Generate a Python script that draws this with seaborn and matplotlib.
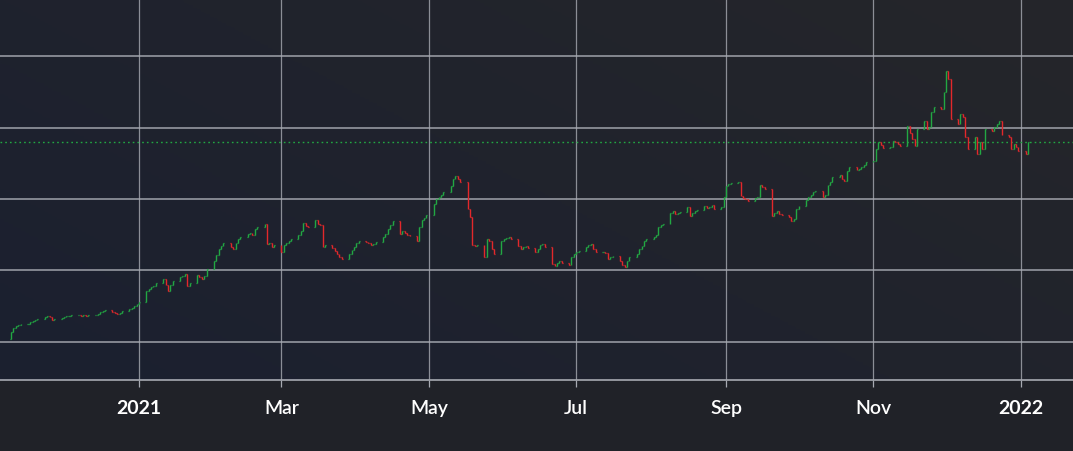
import numpy as np
import pandas as pd
import matplotlib
matplotlib.use("Agg")
import matplotlib.pyplot as plt
import matplotlib.dates as mdates
from matplotlib.colors import LinearSegmentedColormap
import seaborn as sns

# daily closes, one row per trading week (Mon..Fri), 2020-11-09 .. 2022-01-04
weekly_closes = [
    [56.9, 59.7, 61.1, 61.8, 62.5],
    [62.5, 63.9, 64.6, 65.3, 66.0],
    [67.4, 68.1, 67.4, 65.3, 66.0],
    [66.7, 67.4, 68.1, 68.1, 68.8],
    [68.8, 68.1, 68.8, 68.1, 68.8],
    [68.8, 69.5, 70.9, 71.6, 72.3],
    [70.9, 70.2, 69.5, 70.2, 71.6],
    [73.0, 73.7, 75.1, 76.5, 77.9],
    [85.6, 87.0, 88.4, 89.1, 91.2],
    [94.0, 89.8, 85.6, 89.8, 92.6],
    [95.4, 96.1, 97.5, 89.1, 91.2],
    [96.8, 95.4, 94.0, 96.1, 101.0],
    [106.6, 110.8, 115.0, 117.1, 119.2],
    [116.4, 115.0, 119.2, 122.0, 123.4],
    [125.5, 126.2, 124.8, 129.0, 130.4],
    [132.5, 118.5, 119.2, 116.4, 117.8],
    [112.9, 117.8, 119.2, 120.6, 122.0],
    [124.8, 127.6, 133.2, 131.1, 130.4],
    [135.3, 132.5, 131.8, 116.4, 117.8],
    [115.7, 113.6, 111.5, 109.4, 108.0],
    [111.5, 114.3, 116.4, 119.2, 120.6],
    [119.9, 119.2, 117.8, 118.5, 119.9],
    [123.4, 125.5, 129.0, 131.8, 134.6],
    [125.5, 127.6, 126.2, 124.8, 124.1],
    [120.6, 130.4, 135.3, 136.7, 138.8],
    [146.5, 150.0, 151.4, 152.8, 154.9],
    [159.1, 164.0, 166.1, 164.0, 161.9],
    [143.0, 137.4, 117.8, 117.1, 117.8],
    [109.4, 122.0, 120.6, 115.0, 111.5],
    [120.6, 122.0, 122.7, 123.4, 122.0],
    [117.1, 115.0, 116.4, 117.1, 115.7],
    [112.9, 115.0, 117.8, 118.5, 116.4],
    [104.5, 103.1, 105.2, 106.6, 105.2],
    [103.8, 109.4, 111.5, 112.9, 113.6],
    [116.4, 117.8, 118.5, 115.0, 112.9],
    [112.9, 112.2, 108.0, 109.4, 110.1],
    [106.6, 103.8, 102.4, 106.6, 109.4],
    [111.5, 115.0, 117.1, 120.6, 122.0],
    [123.4, 124.8, 130.4, 131.8, 132.5],
    [140.2, 141.6, 139.5, 140.2, 140.9],
    [144.4, 138.1, 140.2, 141.6, 142.3],
    [145.1, 143.7, 144.4, 145.8, 143.0],
    [144.4, 151.4, 159.1, 160.5, 161.2],
    [161.9, 152.1, 150.7, 150.0, 148.6],
    [150.7, 151.4, 159.8, 158.4, 157.0],
    [138.1, 140.2, 141.6, 139.5, 138.8],
    [137.4, 134.6, 136.0, 143.0, 145.1],
    [149.3, 151.4, 152.8, 154.9, 155.6],
    [151.4, 152.8, 159.8, 161.9, 165.4],
    [166.8, 164.0, 162.6, 169.6, 172.4],
    [170.3, 171.0, 172.4, 173.8, 175.9],
    [176.6, 185.0, 189.9, 187.8, 185.7],
    [186.4, 190.6, 189.9, 188.5, 187.1],
    [201.1, 196.2, 192.0, 187.1, 199.0],
    [204.6, 199.0, 200.4, 210.9, 214.4],
    [213.0, 224.9, 239.6, 234.0, 206.0],
    [202.5, 209.5, 207.4, 193.4, 185.0],
    [193.4, 181.5, 189.9, 185.0, 199.0],
    [197.6, 200.4, 202.5, 204.6, 194.8],
    [193.4, 185.0, 188.5, 186.4, 183.6],
    [181.5, 189.9],
]
first_open = 52.0
price_grid = [50, 100, 150, 200, 250]
tick_dates = ["2021-01-01", "2021-03-01", "2021-05-01", "2021-07-01",
              "2021-09-01", "2021-11-01", "2022-01-01"]
tick_labels = ["2021", "Mar", "May", "Jul", "Sep", "Nov", "2022"]

closes = np.array([c for wk in weekly_closes for c in wk])
dates = pd.bdate_range("2020-11-09", periods=len(closes))
opens = np.concatenate([[first_open], closes[:-1]])
highs = np.maximum(opens, closes)
lows = np.minimum(opens, closes)
df = pd.DataFrame({"date": dates, "open": opens, "high": highs,
                   "low": lows, "close": closes})
last_close = df["close"].iloc[-1]

sns.set_theme(style="dark")
plt.rcParams["font.family"] = ["Lato", "DejaVu Sans"]

GREEN = "#22a843"
RED = "#e3282b"
GRID = "#a7aab2"

fig = plt.figure(figsize=(10.73, 4.52), dpi=100)
fig.patch.set_facecolor("#202228")
ax = fig.add_axes([0, 0.1571, 1, 0.8429])
ax.set_facecolor("#1e2230")

# soft diagonal background like the terminal theme
grad = np.linspace(0, 1, 256)
gx, gy = np.meshgrid(grad, grad)
cmap = LinearSegmentedColormap.from_list("bg", ["#1b2030", "#25262a"])
ax.imshow(gx * 0.6 + (1 - gy) * 0.4, cmap=cmap, extent=[0, 1, 0, 1],
          transform=ax.transAxes, aspect="auto", zorder=0, origin="upper")

x = mdates.date2num(df["date"])
colors = np.where(df["close"] >= df["open"], GREEN, RED)
half = 0.38
ax.vlines(x, df["low"], df["high"], colors=colors, lw=1.0, zorder=3)
ax.hlines(df["open"], x - half, x, colors=colors, lw=0.9, zorder=3)
ax.hlines(df["close"], x, x + half, colors=colors, lw=0.9, zorder=3)

ax.axhline(last_close, color=GREEN, lw=1.0, ls=(0, (1.2, 2.2)), zorder=2)

ax.set_xlim(mdates.date2num(pd.Timestamp("2020-11-04 12:00")),
            mdates.date2num(pd.Timestamp("2022-01-22 14:00")))
ax.set_ylim(23.3, 290)

ax.set_yticks(price_grid)
ax.set_yticklabels([])
ax.tick_params(axis="y", length=0)
ax.set_xticks(mdates.date2num(pd.to_datetime(tick_dates)))
ax.set_xticklabels(tick_labels)
ax.tick_params(axis="x", direction="out", length=5, width=0.9, color=GRID,
               pad=9, labelsize=14, labelcolor="white", bottom=True)
for lab in ax.get_xticklabels():
    lab.set_fontweight("bold" if lab.get_text().isdigit() else "semibold")

ax.grid(axis="y", color=GRID, lw=1.3, alpha=0.8, zorder=1)
ax.grid(axis="x", color=GRID, lw=0.9, alpha=0.8, zorder=1)
for side in ["top", "left", "right"]:
    ax.spines[side].set_visible(False)
ax.spines["bottom"].set_color(GRID)
ax.spines["bottom"].set_linewidth(1.2)
ax.set_axisbelow(True)

fig.savefig("out.png", dpi=100, facecolor=fig.get_facecolor())
